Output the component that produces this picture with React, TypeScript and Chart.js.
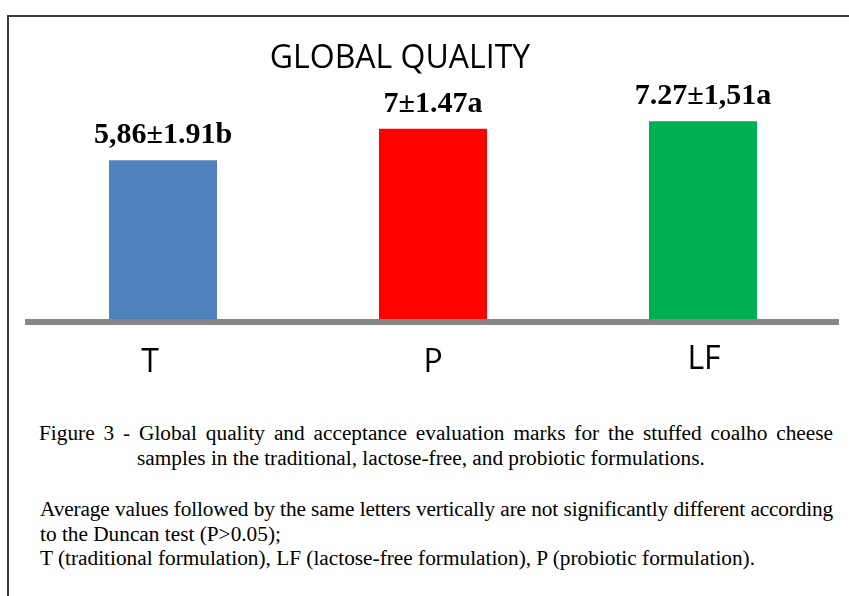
import React, { useEffect, useRef } from "react";
import { Chart, registerables } from "chart.js";

Chart.register(...registerables);

// ---- data ----
const categories = ["T", "P", "LF"];
const values = [5.86, 7, 7.27];
const valueLabels = ["5,86±1.91b", "7±1.47a", "7.27±1,51a"];
const barColors = ["#4F81BD", "#FF0000", "#00B050"];
const chartTitle = "GLOBAL QUALITY";
const yMin = 0;
const yMax = 10;

const captionLine1 = "Figure 3 - Global quality and acceptance evaluation marks for the stuffed coalho cheese";
const captionLine2 = "samples in the traditional, lactose-free, and probiotic formulations.";
const noteLine1 = "Average values followed by the same letters vertically are not significantly different according";
const noteLine2 = "to the Duncan test (P>0.05);";
const noteLine3 = "T (traditional formulation), LF (lactose-free formulation), P (probiotic formulation).";

// small per-label nudges of the category labels (as seen in the reference)
const tickDx = [-13, 0, 1];
const tickDy = [0, 0, -3];

const textPlugin = {
  id: "textPlugin",
  afterDraw(chart: any) {
    const ctx = chart.ctx;
    const area = chart.chartArea;
    const meta = chart.getDatasetMeta(0);
    ctx.save();
    ctx.fillStyle = "#000";
    ctx.textAlign = "center";
    ctx.textBaseline = "alphabetic";
    ctx.font = "bold 30px 'Liberation Serif', 'Times New Roman', serif";
    meta.data.forEach((bar: any, i: number) => {
      ctx.fillText(valueLabels[i], bar.x, bar.y - 17);
    });
    const xs = chart.scales.x;
    ctx.font = "32px 'Open Sans', sans-serif";
    categories.forEach((c, i) => {
      ctx.fillText(c, xs.getPixelForValue(i) + tickDx[i], area.bottom + 50 + tickDy[i]);
    });
    ctx.font = "32px 'Open Sans', sans-serif";
    ctx.fillText(chartTitle, 400, area.top + 22);
    ctx.restore();
  },
};

function ChartCanvas() {
  const ref = useRef<HTMLCanvasElement | null>(null);
  useEffect(() => {
    if (!ref.current) return;
    const chart = new Chart(ref.current, {
      type: "bar",
      data: {
        labels: categories,
        datasets: [
          {
            data: values,
            backgroundColor: barColors,
            borderWidth: 0,
            categoryPercentage: 1,
            barPercentage: 0.4,
          },
        ],
      },
      options: {
        responsive: false,
        animation: false,
        layout: { padding: { left: 28, right: 11, top: 46, bottom: 78 } },
        plugins: {
          legend: { display: false },
          tooltip: { enabled: false },
          title: { display: false },
        },
        scales: {
          x: {
            grid: { display: false, drawTicks: false },
            ticks: { display: false },
            border: { display: true, width: 6, color: "#878787", z: 1 },
          },
          y: {
            display: false,
            min: yMin,
            max: yMax,
          },
        },
      },
      plugins: [textPlugin],
    });
    return () => chart.destroy();
  }, []);
  return (
    <canvas
      ref={ref}
      width={849}
      height={400}
      style={{ position: "absolute", left: 0, top: 0, width: 849, height: 400 }}
    />
  );
}

const FS = 21.3;
const BASE = 17.85; // baseline offset from line box top at line-height = FS

function Line({ text, x, baseline, width, justify, spacing }: { text: string; x: number; baseline: number; width?: number; justify?: boolean; spacing?: number }) {
  return (
    <div
      style={{
        position: "absolute",
        left: x,
        top: baseline - BASE,
        width: width,
        whiteSpace: "nowrap",
        fontFamily: "'Liberation Serif', 'Times New Roman', serif",
        fontSize: FS,
        lineHeight: `${FS}px`,
        letterSpacing: spacing ? `${spacing}px` : undefined,
        color: "#000",
        textAlign: justify ? "justify" : "left",
        textAlignLast: justify ? "justify" : "auto",
      } as React.CSSProperties}
    >
      {text}
    </div>
  );
}

export default function App() {
  return (
    <div style={{ position: "absolute", left: 0, top: 0, width: 849, height: 596, background: "#fff", overflow: "hidden" }}>
      <div
        style={{
          position: "absolute",
          left: 7,
          top: 15,
          width: 860,
          height: 700,
          borderTop: "2px solid #3a3a3a",
          borderLeft: "2px solid #3a3a3a",
        }}
      />
      <ChartCanvas />
      <Line text={captionLine1} x={39} baseline={441} width={794} justify />
      <Line text={captionLine2} x={137} baseline={466} />
      <Line text={noteLine1} x={40} baseline={517} width={793} justify spacing={-0.15} />
      <Line text={noteLine2} x={40} baseline={542} />
      <Line text={noteLine3} x={40} baseline={566} />
    </div>
  );
}
